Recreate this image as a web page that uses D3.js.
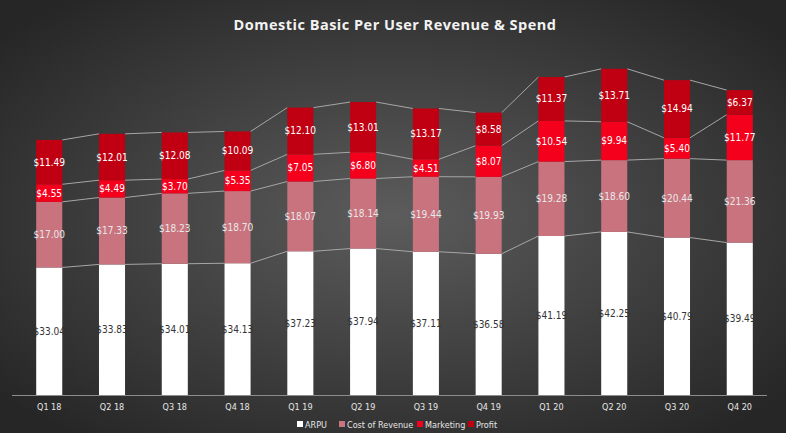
<!DOCTYPE html>
<html><head><meta charset="utf-8">
<script src="https://cdn.jsdelivr.net/npm/d3@7"></script>
<style>body{margin:0;background:#fff}</style>
</head><body>
<script>
var width = 792, height = 441;
var quarters = ["Q1 18","Q2 18","Q3 18","Q4 18","Q1 19","Q2 19","Q3 19","Q4 19","Q1 20","Q2 20","Q3 20","Q4 20"];
var arpu = [33.04,33.83,34.01,34.13,37.23,37.94,37.11,36.58,41.19,42.25,40.79,39.49];
var costOfRevenue = [17.00,17.33,18.23,18.70,18.07,18.14,19.44,19.93,19.28,18.60,20.44,21.36];
var marketing = [4.55,4.49,3.70,5.35,7.05,6.80,4.51,8.07,10.54,9.94,5.40,11.77];
var profit = [11.49,12.01,12.08,10.09,12.10,13.01,13.17,8.58,11.37,13.71,14.94,6.37];
var seriesNames = ["ARPU","Cost of Revenue","Marketing","Profit"];
var colors = ["#ffffff","#c9737e","#f5001c","#c00012"];
var labelColors = ["#333333","#e8e8e8","#ffffff","#ffffff"];

var rows = quarters.map(function(q, i){
	return {q: q, "ARPU": arpu[i], "Cost of Revenue": costOfRevenue[i], "Marketing": marketing[i], "Profit": profit[i]};
});
var stacked = d3.stack().keys(seriesNames)(rows);

var svg = d3.select("body").append("svg").attr("width", width).attr("height", height);
var defs = svg.append("defs");
var grad = defs.append("radialGradient").attr("id","bg").attr("cx","50%").attr("cy","50%").attr("r","65%");
grad.append("stop").attr("offset","0%").attr("stop-color","#5c5c5c");
grad.append("stop").attr("offset","100%").attr("stop-color","#262626");
svg.append("rect").attr("width",786).attr("height",433).attr("fill","url(#bg)");

var x = d3.scaleBand().domain(quarters).range([18,771]).paddingInner(0.585).paddingOuter(0.29);
var y = d3.scaleLinear().domain([0,90]).range([395,47.6]);

svg.append("text").attr("x",395).attr("y",30).attr("text-anchor","middle")
	.attr("font-family","'Open Sans', sans-serif").attr("font-weight","bold").attr("font-size",14.5)
	.attr("fill","#f2f2f2").attr("letter-spacing","0.5").text("Domestic Basic Per User Revenue & Spend");

// series connector lines
stacked.forEach(function(s){
	for (var i = 0; i < s.length - 1; i++) {
		svg.append("line")
			.attr("x1", x(quarters[i]) + x.bandwidth()).attr("y1", y(s[i][1]))
			.attr("x2", x(quarters[i+1])).attr("y2", y(s[i+1][1]))
			.attr("stroke","#a6a6a6").attr("stroke-width",1);
	}
});

stacked.forEach(function(s, k){
	var g = svg.append("g");
	g.selectAll("rect").data(s).enter().append("rect")
		.attr("x", function(d){ return x(d.data.q); })
		.attr("y", function(d){ return y(d[1]); })
		.attr("width", x.bandwidth())
		.attr("height", function(d){ return y(d[0]) - y(d[1]); })
		.attr("fill", colors[k]);
	g.selectAll("text").data(s).enter().append("text")
		.attr("x", function(d){ return x(d.data.q) + x.bandwidth()/2; })
		.attr("y", function(d){ return (y(d[0]) + y(d[1]))/2 + 3.5; })
		.attr("text-anchor","middle").attr("font-family","'Liberation Sans Narrow','DejaVu Sans Condensed',sans-serif")
		.attr("font-size",10).attr("fill",labelColors[k])
		.text(function(d){ return "$" + (d[1]-d[0]).toFixed(2); });
});

svg.append("line").attr("x1",12).attr("x2",767).attr("y1",395.5).attr("y2",395.5).attr("stroke","#8c8c8c");
var xAxis = svg.append("g").attr("transform","translate(0,395)")
	.call(d3.axisBottom(x).tickSize(0).tickPadding(9));
xAxis.select(".domain").remove();
xAxis.selectAll("text").attr("fill","#e6e6e6").attr("font-size",9)
	.attr("font-family","'Liberation Sans Narrow','DejaVu Sans Condensed',sans-serif");

var legX = [305, 347, 425, 476];
var leg = svg.append("g");
seriesNames.forEach(function(n, i){
	leg.append("rect").attr("x",legX[i]-8).attr("y",421).attr("width",6).attr("height",6).attr("fill",colors[i]);
	leg.append("text").attr("x",legX[i]).attr("y",427.5).attr("fill","#e6e6e6").attr("font-size",9)
		.attr("font-family","'Liberation Sans Narrow','DejaVu Sans Condensed',sans-serif").text(n);
});
</script>
</body></html>
